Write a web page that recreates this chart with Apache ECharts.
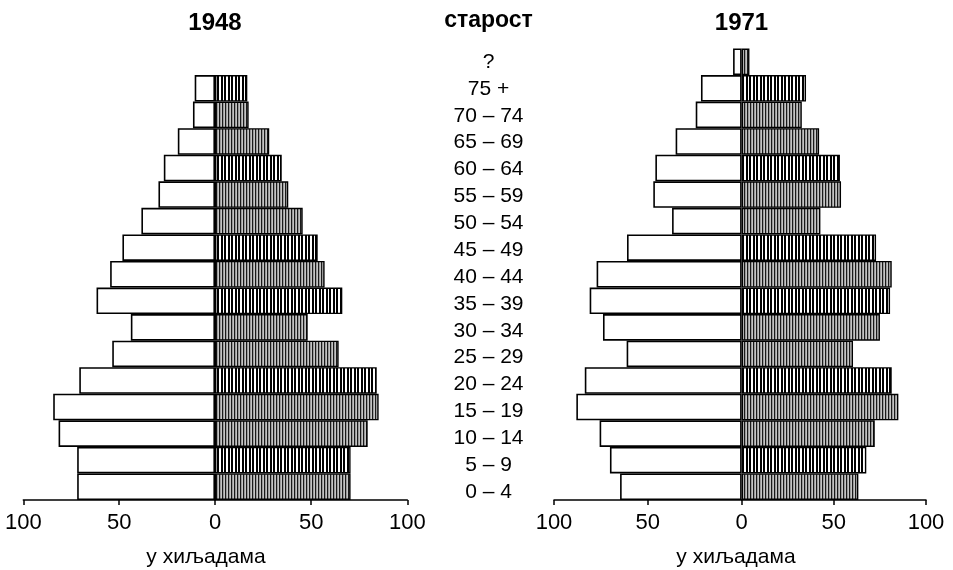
<!DOCTYPE html>
<html><head><meta charset="utf-8">
<script src="https://cdn.jsdelivr.net/npm/echarts@6/dist/echarts.min.js"></script>
<style>html,body{margin:0;padding:0;background:#fff}#c{width:953px;height:570px}</style>
</head><body><div id="c"></div>
<script>
// ---- data (bottom row first) ----
const ageGroups = ['0 – 4','5 – 9','10 – 14','15 – 19','20 – 24','25 – 29','30 – 34','35 – 39','40 – 44','45 – 49','50 – 54','55 – 59','60 – 64','65 – 69','70 – 74','75 +','?'];
const male1948   = [71.9, 71.9, 81.6, 84.4, 70.8, 53.6, 43.9, 61.8, 54.7, 48.3, 38.4, 29.5, 26.7, 19.4, 11.5, 10.6, null];
const female1948 = [70.5, 70.5, 79.4, 85.1, 84.1, 64.3, 48.2, 66.2, 57.0, 53.4, 45.6, 38.1, 34.7, 28.2, 17.5, 16.8, null];
const male1971   = [64.8, 70.2, 75.7, 88.1, 83.6, 61.3, 73.9, 81.0, 77.3, 61.1, 37.1, 47.1, 46.0, 35.2, 24.5, 21.7, 4.6];
const female1971 = [63.3, 67.6, 72.2, 85.0, 81.4, 60.4, 75.0, 80.5, 81.4, 72.9, 42.7, 53.9, 53.3, 42.0, 32.6, 34.9, 4.2];
const titles = ['1948', '1971'];
const ageTitle = 'старост';
const unitLabel = 'у хиљадама';

// ---- styles ----
const FONT = '"Liberation Sans", Arial, sans-serif';
const darkHatchRows = [1, 4, 7, 9, 12, 15];
function makePattern(cols) {
  const c = document.createElement('canvas');
  c.width = cols.length; c.height = 4;
  const ctx = c.getContext('2d');
  cols.forEach((col, i) => { ctx.fillStyle = col; ctx.fillRect(i, 0, 1, 4); });
  return { image: c, repeat: 'repeat' };
}
const grayPat = makePattern(['#1a1a1a', '#9a9a9a', '#c4c4c4']);
const bwPat = makePattern(['#000', '#000', '#fff', '#fff', '#000', '#000', '#fff']);

const TOP = 48.5, H = 451.5;
const grids = [
  { left: 23.3, top: TOP, width: 191.7, height: H },
  { left: 215, top: TOP, width: 192.3, height: H },
  { left: 554, top: TOP, width: 187.7, height: H },
  { left: 741.7, top: TOP, width: 184.3, height: H },
  { left: 554, top: 48.6, width: 10, height: 456.9 } // label column
];

function xAxisFor(i, inverse, hideZero) {
  return {
    type: 'value', gridIndex: i, min: 0, max: 100, interval: 50, inverse: inverse,
    splitLine: { show: false },
    axisLine: { show: true, lineStyle: { color: '#000', width: 1.5 } },
    axisTick: { show: true, length: 5, lineStyle: { color: '#000', width: 1.5 } },
    axisLabel: { show: true, color: '#000', fontSize: 22, fontFamily: FONT, margin: 12, showMinLabel: !hideZero }
  };
}
function yAxisFor(i) {
  return {
    type: 'category', gridIndex: i, data: ageGroups, position: 'left',
    axisLine: { show: false }, axisTick: { show: false }, splitLine: { show: false },
    axisLabel: { show: false }
  };
}
const labelX = { type: 'value', gridIndex: 4, show: false, min: 0, max: 1 };
const labelY = {
  type: 'category', gridIndex: 4, data: ageGroups, position: 'left',
  axisLine: { show: false }, axisTick: { show: false }, splitLine: { show: false },
  axisLabel: { show: true, color: '#000', fontSize: 21, fontFamily: FONT, align: 'center', margin: 65.5, interval: 0 }
};
const maleStyle = { color: '#fff', borderColor: '#000', borderWidth: 1.6 };
function femaleData(arr) {
  return arr.map((v, i) => ({
    value: v,
    itemStyle: { color: darkHatchRows.includes(i) ? bwPat : grayPat, borderColor: '#000', borderWidth: 1.4 }
  }));
}
function barSeries(i, data, style) {
  return {
    type: 'bar', xAxisIndex: i, yAxisIndex: i, data: data,
    barWidth: '100%', barCategoryGap: '0%', itemStyle: style, silent: true, animation: false
  };
}

const textStyleBase = { fill: '#000', fontFamily: FONT, textAlign: 'center', textVerticalAlign: 'middle' };
const option = {
  animation: false,
  backgroundColor: '#fff',
  grid: grids,
  xAxis: [xAxisFor(0, true, false), xAxisFor(1, false, true), xAxisFor(2, true, false), xAxisFor(3, false, true), labelX],
  yAxis: [yAxisFor(0), yAxisFor(1), yAxisFor(2), yAxisFor(3), labelY],
  series: [
    barSeries(0, male1948, maleStyle),
    barSeries(1, femaleData(female1948), null),
    barSeries(2, male1971, maleStyle),
    barSeries(3, femaleData(female1971), null)
  ],
  graphic: [
    { type: 'text', x: 215, y: 23, style: Object.assign({ text: titles[0], fontSize: 24, fontWeight: 'bold' }, textStyleBase) },
    { type: 'text', x: 741.5, y: 23, style: Object.assign({ text: titles[1], fontSize: 24, fontWeight: 'bold' }, textStyleBase) },
    { type: 'text', x: 488.5, y: 21, style: Object.assign({ text: ageTitle, fontSize: 23, fontWeight: 'bold' }, textStyleBase) },
    { type: 'text', x: 206, y: 557, style: Object.assign({ text: unitLabel, fontSize: 21 }, textStyleBase) },
    { type: 'text', x: 736, y: 557, style: Object.assign({ text: unitLabel, fontSize: 21 }, textStyleBase) }
  ]
};
const chart = echarts.init(document.getElementById('c'), null, { renderer: 'canvas' });
chart.setOption(option);
</script>
</body></html>
